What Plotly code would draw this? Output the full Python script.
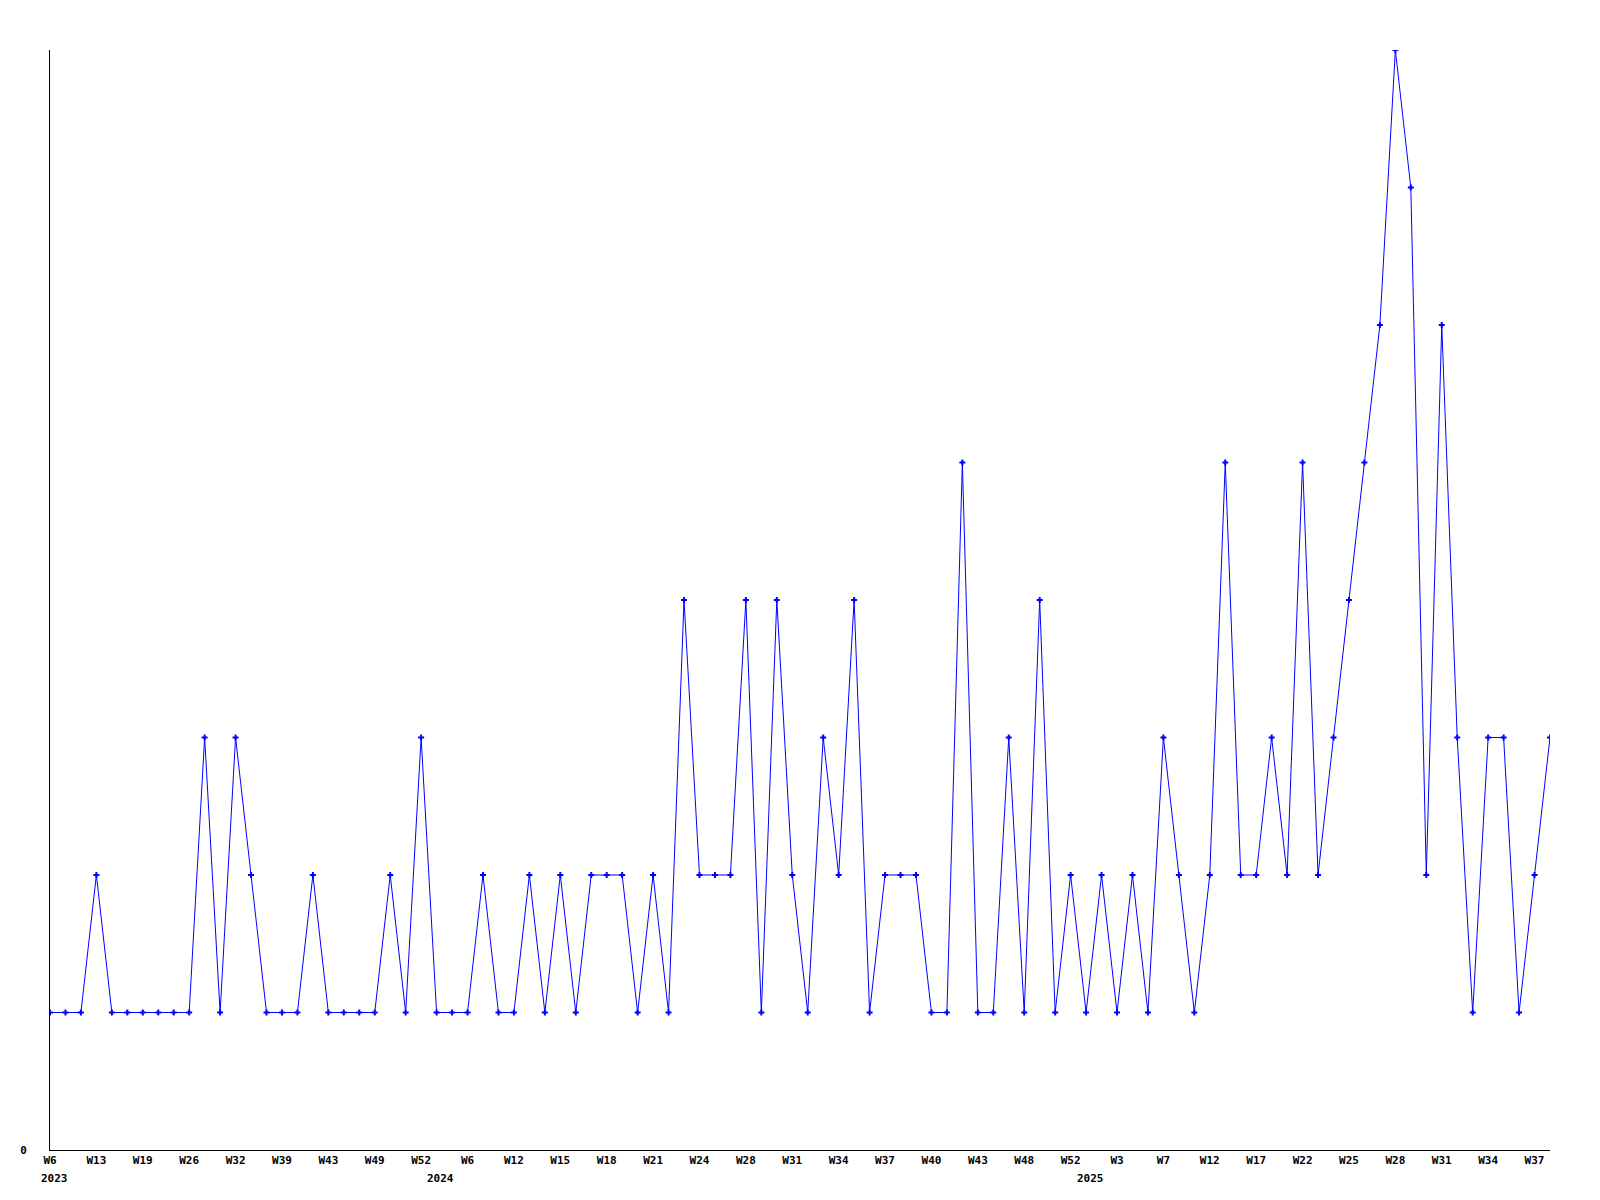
import plotly.graph_objects as go

weeks_2023 = ["W6", "W8", "W10", "W13", "W15", "W17", "W19", "W21", "W24", "W26", "W28", "W30",
              "W32", "W34", "W37", "W39", "W40", "W41", "W43", "W45", "W47", "W49", "W50", "W51", "W52"]
weeks_2024 = ["W2", "W4", "W6", "W8", "W10", "W12", "W13", "W14", "W15", "W16", "W17", "W18", "W19",
              "W20", "W21", "W22", "W23", "W24", "W26", "W27", "W28", "W29", "W30", "W31", "W32", "W33",
              "W34", "W35", "W36", "W37", "W38", "W39", "W40", "W41", "W42", "W43", "W45", "W46", "W48",
              "W49", "W50", "W52"]
weeks_2025 = ["W1", "W2", "W3", "W4", "W6", "W7", "W9", "W11", "W12", "W14", "W16", "W17", "W19", "W21",
              "W22", "W23", "W24", "W25", "W26", "W27", "W28", "W29", "W30", "W31", "W32", "W33", "W34",
              "W35", "W36", "W37", "W38"]

values = [1, 1, 1, 2, 1, 1, 1, 1, 1, 1, 3, 1, 3, 2, 1, 1, 1, 2, 1, 1, 1, 1, 2, 1, 3,
          1, 1, 1, 2, 1, 1, 2, 1, 2, 1, 2, 2, 2, 1, 2, 1, 4, 2, 2, 2, 4, 1, 4, 2, 1, 3, 2, 4, 1,
          2, 2, 2, 1, 1, 5, 1, 1, 3, 1, 4, 1, 2,
          1, 2, 1, 2, 1, 3, 2, 1, 2, 5, 2, 2, 3, 2, 5, 2, 3, 4, 5, 6, 8, 7, 2, 6, 3, 1, 3, 3, 1, 2, 3]

years = ["2023", "2024", "2025"]
week_groups = [weeks_2023, weeks_2024, weeks_2025]

categories = []
labels = []
year_first = []
for yr, wl in zip(years, week_groups):
    year_first.append(f"{yr} {wl[0]}")
    for w in wl:
        categories.append(f"{yr} {w}")
        labels.append(w)

tick_vals = categories[::3]
tick_text = labels[::3]

font_family = "DejaVu Sans Mono"

fig = go.Figure()
fig.add_trace(go.Scatter(
    x=categories, y=values, mode="lines+markers",
    line=dict(color="#0000ff", width=1),
    marker=dict(symbol="cross", size=5, color="#0000ff", line=dict(width=0)),
    showlegend=False,
))

for yr, first in zip(years, year_first):
    fig.add_annotation(x=first, y=0, xref="x", yref="paper", yanchor="top",
                       yshift=-20, xshift=4, text=yr, showarrow=False,
                       font=dict(family=font_family, size=11, color="black", weight="bold"))

fig.update_layout(
    width=1584, height=1184,
    margin=dict(l=42, r=42, t=42, b=42),
    paper_bgcolor="white", plot_bgcolor="white",
    xaxis=dict(type="category", categoryorder="array", categoryarray=categories,
               range=[0, len(categories) - 1],
               tickmode="array", tickvals=tick_vals, ticktext=tick_text,
               showgrid=False, zeroline=False, showline=True, linecolor="black", linewidth=1,
               ticks="", tickangle=0,
               tickfont=dict(family=font_family, size=11, color="black", weight="bold")),
    yaxis=dict(range=[0, 8], tickmode="array", tickvals=[0], ticktext=["0"],
               showgrid=False, zeroline=False, showline=True, linecolor="black", linewidth=1,
               ticks="", ticklabelstandoff=20,
               tickfont=dict(family=font_family, size=11, color="black", weight="bold")),
)

fig.write_html("out.html")
